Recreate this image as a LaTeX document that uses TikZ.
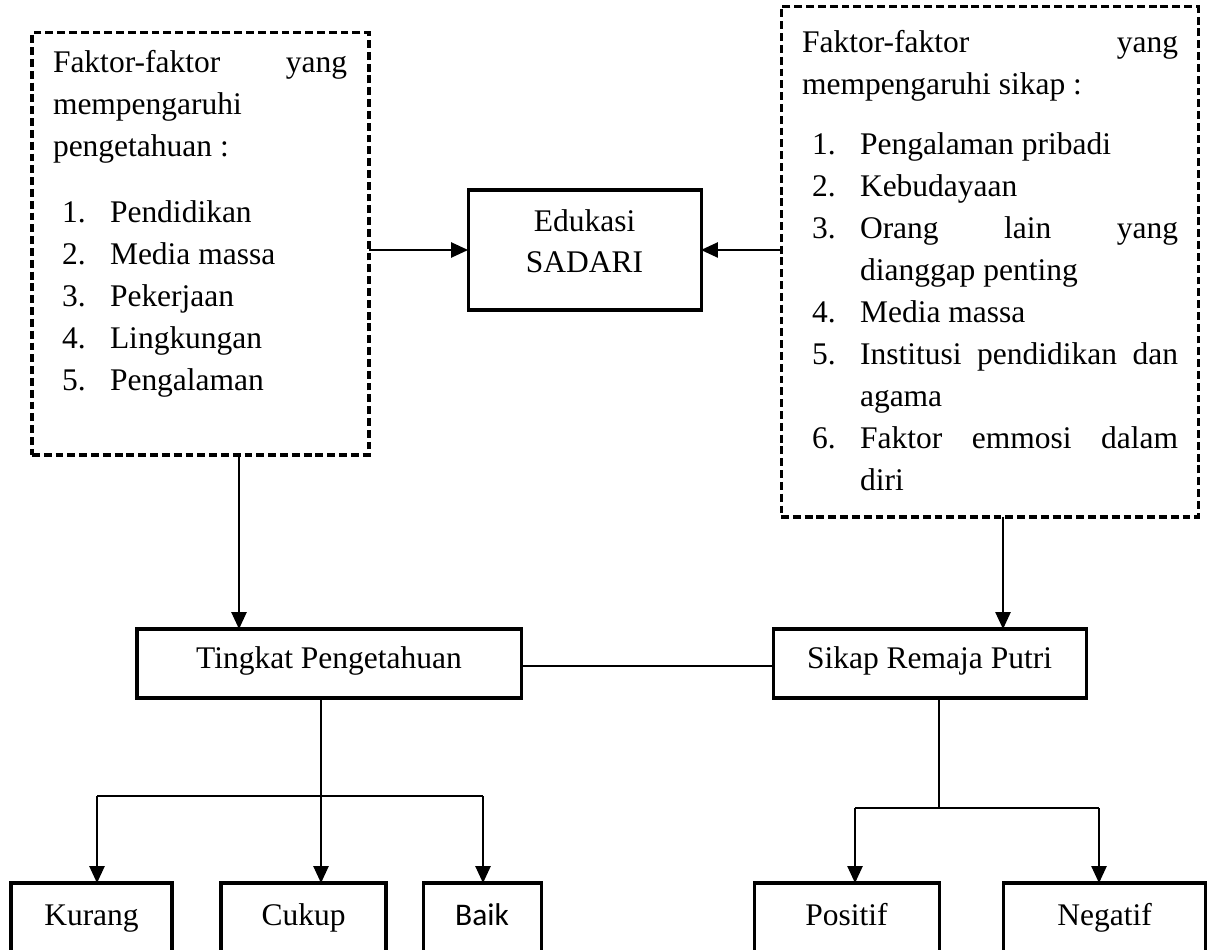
\documentclass[tikz,border=0pt]{standalone}
\usepackage{fontspec}
\setmainfont{Liberation Serif}
\newfontfamily\calibri{Carlito}
\usetikzlibrary{arrows.meta,fit}
\newdimen\px \px=0.381pt
\begin{document}
\begin{tikzpicture}[x=0.381pt, y=-0.381pt, font=\fontsize{12}{16}\selectfont,
  txt/.style={inner sep=0pt, outer sep=0pt, anchor=base west},
  ctxt/.style={inner sep=0pt, outer sep=0pt, anchor=base},
  frame/.style={draw, line width=1.15pt, inner sep=0pt, outer sep=0pt},
  dframe/.style={frame, dash pattern=on 3pt off 1.5pt},
  link/.style={line width=0.5pt},
  arr/.style={link, -{Triangle[length=6.4pt,width=5.8pt]}}]
\useasboundingbox (0,0) rectangle (1207,950);
\clip (0,0) rectangle (1207,950);

% factor boxes
\node[dframe, fit={(32,33) (369,455)}] (L) {};
\node[dframe, fit={(781,7) (1198,517)}] (R) {};

% left factor list
\node[txt] (lh1) at (53,73) {\makebox[294\px][s]{Faktor-faktor yang}};
\node[txt] (lh2) at (53,115) {mempengaruhi};
\node[txt] (lh3) at (53,157) {pengetahuan :};
\foreach \t [count=\i] in {Pendidikan, Media massa, Pekerjaan, Lingkungan, Pengalaman} {
  \node[txt] (ln\i) at (62,{223+42*(\i-1)}) {\i.};
  \node[txt] (li\i) at (110,{223+42*(\i-1)}) {\t};
}

% right factor list
\node[txt] (rh1) at (802,53) {\makebox[376\px][s]{Faktor-faktor yang}};
\node[txt] (rh2) at (802,95) {mempengaruhi sikap :};
\node[txt] (rn1) at (812,155) {1.};
\node[txt] (ri1) at (860,155) {Pengalaman pribadi};
\node[txt] (rn2) at (812,197) {2.};
\node[txt] (ri2) at (860,197) {Kebudayaan};
\node[txt] (rn3) at (812,239) {3.};
\node[txt] (ri3) at (860,239) {\makebox[318\px][s]{Orang lain yang}};
\node[txt] (ri3b) at (860,281) {dianggap penting};
\node[txt] (rn4) at (812,323) {4.};
\node[txt] (ri4) at (860,323) {Media massa};
\node[txt] (rn5) at (812,365) {5.};
\node[txt] (ri5) at (860,365) {\makebox[318\px][s]{Institusi pendidikan dan}};
\node[txt] (ri5b) at (860,407) {agama};
\node[txt] (rn6) at (812,449) {6.};
\node[txt] (ri6) at (860,449) {\makebox[318\px][s]{Faktor emmosi dalam}};
\node[txt] (ri6b) at (860,491) {diri};

% central boxes
\node[frame, fit={(468,190) (701,310)}] (E) {};
\node[ctxt] (E1) at (584.5,232) {Edukasi};
\node[ctxt] (E2) at (584.5,273) {SADARI};

\node[frame, fit={(137,629) (521,698)}] (T) {};
\node[ctxt] (Ttxt) at (329,668) {Tingkat Pengetahuan};
\node[frame, fit={(773,629) (1086,698)}] (S) {};
\node[ctxt] (Stxt) at (929.5,668) {Sikap Remaja Putri};

% outcome boxes
\node[frame, fit={(11,883) (172,985)}] (K) {};
\node[ctxt] (Ktxt) at (91.5,925) {Kurang};
\node[frame, fit={(221,883) (386,985)}] (C) {};
\node[ctxt] (Ctxt) at (303.5,925) {Cukup};
\node[frame, fit={(423,883) (541,985)}] (B) {};
\node[ctxt] (Btxt) at (482,925) {\calibri Baik};
\node[frame, fit={(754,883) (939,985)}] (P) {};
\node[ctxt] (Ptxt) at (846.5,925) {Positif};
\node[frame, fit={(1003,883) (1205,985)}] (N) {};
\node[ctxt] (Ntxt) at (1104.5,925) {Negatif};

% connector routing points
\coordinate (xLT) at (239,0);
\coordinate (xRS) at (1003,0);
\coordinate (yTS) at (0,666);
\coordinate (tj) at (321,796);
\coordinate (kj) at (97,796);
\coordinate (bj) at (483,796);
\coordinate (sj) at (939,808);
\coordinate (pj) at (855,808);
\coordinate (nj) at (1099,808);

% connectors
\draw[arr] (L.east |- E.west) -- (E.west);
\draw[arr] (R.west |- E.east) -- (E.east);
\draw[arr] (xLT |- L.south) -- (xLT |- T.north);
\draw[arr] (xRS |- R.south) -- (xRS |- S.north);
\draw[link] (T.east |- yTS) -- (S.west |- yTS);

\draw[arr] (tj |- T.south) -- (tj |- C.north);
\draw[link] (kj) -- (bj);
\draw[arr] (kj) -- (kj |- K.north);
\draw[arr] (bj) -- (bj |- B.north);

\draw[link] (sj |- S.south) -- (sj);
\draw[link] (pj) -- (nj);
\draw[arr] (pj) -- (pj |- P.north);
\draw[arr] (nj) -- (nj |- N.north);
\end{tikzpicture}
\end{document}
